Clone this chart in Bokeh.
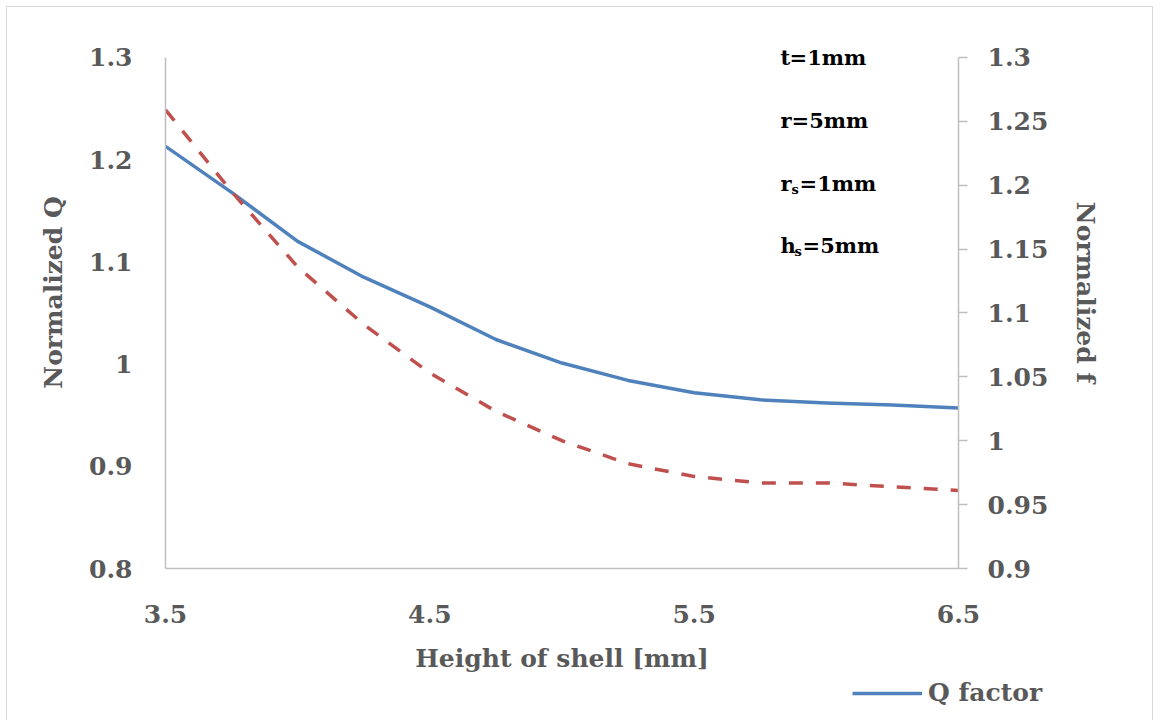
from bokeh.plotting import figure
from bokeh.layouts import column
from bokeh.models import (Range1d, LinearAxis, FixedTicker, Label, Legend, LegendItem, InlineStyleSheet)
from bokeh.embed import file_html
from bokeh.resources import INLINE

height_mm = [3.5, 3.75, 4.0, 4.25, 4.5, 4.75, 5.0, 5.25, 5.5, 5.75, 6.0, 6.25, 6.5]
q_norm = [1.213, 1.168, 1.120, 1.085, 1.056, 1.024, 1.001, 0.984, 0.972, 0.965, 0.962, 0.960, 0.957]
f_norm = [1.259, 1.195, 1.136, 1.091, 1.053, 1.023, 1.000, 0.982, 0.972, 0.967, 0.967, 0.964, 0.961]

x_ticks = [3.5, 4.5, 5.5, 6.5]
q_ticks = [0.8, 0.9, 1.0, 1.1, 1.2, 1.3]
q_tick_labels = ["0.8", "0.9", "1", "1.1", "1.2", "1.3"]
f_ticks = [0.9, 0.95, 1.0, 1.05, 1.1, 1.15, 1.2, 1.25, 1.3]
f_tick_labels = ["0.9", "0.95", "1", "1.05", "1.1", "1.15", "1.2", "1.25", "1.3"]
notes = [("t", "", "=1mm"), ("r", "", "=5mm"), ("r", "s", "=1mm"), ("h", "s", "=5mm")]
note_y = [1.3, 1.238, 1.177, 1.116]

FONT = "DejaVu Serif"
GREY = "#595959"
AXIS = "#BFBFBF"
BLUE = "#4F81BD"
RED = "#C0504D"

# axis bounds stop at 1.3; the range goes a bit higher so the top note is not clipped
Q_TOP = 1.34
F_TOP = 0.9 + (Q_TOP - 0.8) * 0.4 / 0.5

p = figure(width=1160, height=676, output_backend="svg", toolbar_location=None,
           x_range=Range1d(3.5, 6.5), y_range=Range1d(0.8, Q_TOP),
           min_border_left=165, min_border_right=202, min_border_top=16, min_border_bottom=108,
           x_axis_location=None, y_axis_location=None)
p.extra_y_ranges = {"f": Range1d(0.9, F_TOP)}
p.xgrid.visible = False
p.ygrid.visible = False
p.outline_line_color = None
p.background_fill_color = "white"
p.border_fill_color = "white"
p.stylesheets = [InlineStyleSheet(css=(
    ":host::after{content:'';position:absolute;left:6px;right:7px;top:6px;bottom:0;"
    "border:1.5px solid #D9D9D9;border-bottom:none;pointer-events:none;z-index:100;}"))]

def style(ax, size="25px"):
    ax.major_label_text_font = FONT
    ax.major_label_text_font_style = "bold"
    ax.major_label_text_font_size = size
    ax.major_label_text_color = GREY
    ax.axis_label_text_font = FONT
    ax.axis_label_text_font_style = "bold"
    ax.axis_label_text_font_size = "25px"
    ax.axis_label_text_color = GREY
    ax.axis_line_color = AXIS
    ax.axis_line_width = 1.5
    ax.minor_tick_line_color = None

xa = LinearAxis(axis_label="Height of shell [mm]", ticker=FixedTicker(ticks=x_ticks))
style(xa)
xa.major_tick_line_color = None
xa.major_label_standoff = 30
xa.axis_label_standoff = 18
p.add_layout(xa, "below")

ya = LinearAxis(axis_label="Normalized Q", ticker=FixedTicker(ticks=q_ticks), bounds=(0.8, 1.3),
                major_label_overrides={t: l for t, l in zip(q_ticks, q_tick_labels)})
style(ya)
ya.major_tick_line_color = None
ya.major_label_standoff = 27
ya.axis_label_standoff = 18
p.add_layout(ya, "left")

fa = LinearAxis(y_range_name="f", axis_label="Normalized f", ticker=FixedTicker(ticks=f_ticks),
                bounds=(0.9, 1.3),
                major_label_overrides={t: l for t, l in zip(f_ticks, f_tick_labels)})
style(fa)
fa.major_tick_line_color = AXIS
fa.major_tick_line_width = 1.5
fa.major_tick_out = 9
fa.major_tick_in = 0
fa.major_label_standoff = 20
fa.axis_label_standoff = 20
p.add_layout(fa, "right")

q_line = p.line(height_mm, q_norm, line_color=BLUE, line_width=3.5, line_join="round")
f_line = p.line(height_mm, f_norm, line_color=RED, line_width=3.5,
                line_dash="14 13", y_range_name="f")

for (main, sub, rest), y in zip(notes, note_y):
    p.add_layout(Label(x=5.827, y=y, text=main, text_baseline="middle", text_font=FONT,
                       text_font_style="bold", text_font_size="21px", text_color="black"))
    w_main = {"t": 9, "r": 11, "h": 14}[main]
    off = w_main
    if sub:
        p.add_layout(Label(x=5.827, y=y, x_offset=w_main, y_offset=-6, text=sub, text_baseline="middle",
                           text_font=FONT, text_font_style="bold", text_font_size="13px",
                           text_color="black"))
        off += 8
    p.add_layout(Label(x=5.827, y=y, x_offset=off, text=rest, text_baseline="middle", text_font=FONT,
                       text_font_style="bold", text_font_size="21px", text_color="black"))

# legend strip under the chart (its key line uses the Q data, which lies outside this strip's ranges)
p2 = figure(frame_width=1160, frame_height=44, output_backend="svg", toolbar_location=None,
            x_range=Range1d(0, 1), y_range=Range1d(0, 1),
            min_border=0, min_border_left=0, min_border_right=0, min_border_top=0, min_border_bottom=0,
            x_axis_location=None, y_axis_location=None)
p2.xgrid.visible = False
p2.ygrid.visible = False
p2.outline_line_color = None
p2.stylesheets = [InlineStyleSheet(css=(
    ":host::after{content:'';position:absolute;left:6px;right:7px;top:0;bottom:0;"
    "border-left:1.5px solid #D9D9D9;border-right:1.5px solid #D9D9D9;pointer-events:none;z-index:100;}"))]
q_key = p2.line(height_mm, q_norm, line_color=BLUE, line_width=3.5)
legend = Legend(items=[LegendItem(label="Q factor", renderers=[q_key])],
                location=(852, 13), orientation="horizontal",
                label_text_font=FONT, label_text_font_style="bold", label_text_font_size="25px",
                label_text_color=GREY, glyph_width=70, label_standoff=6, padding=0, margin=0,
                border_line_color=None, background_fill_alpha=0)
p2.add_layout(legend)

open("out.html", "w").write(file_html(column(p, p2, spacing=0), INLINE))
